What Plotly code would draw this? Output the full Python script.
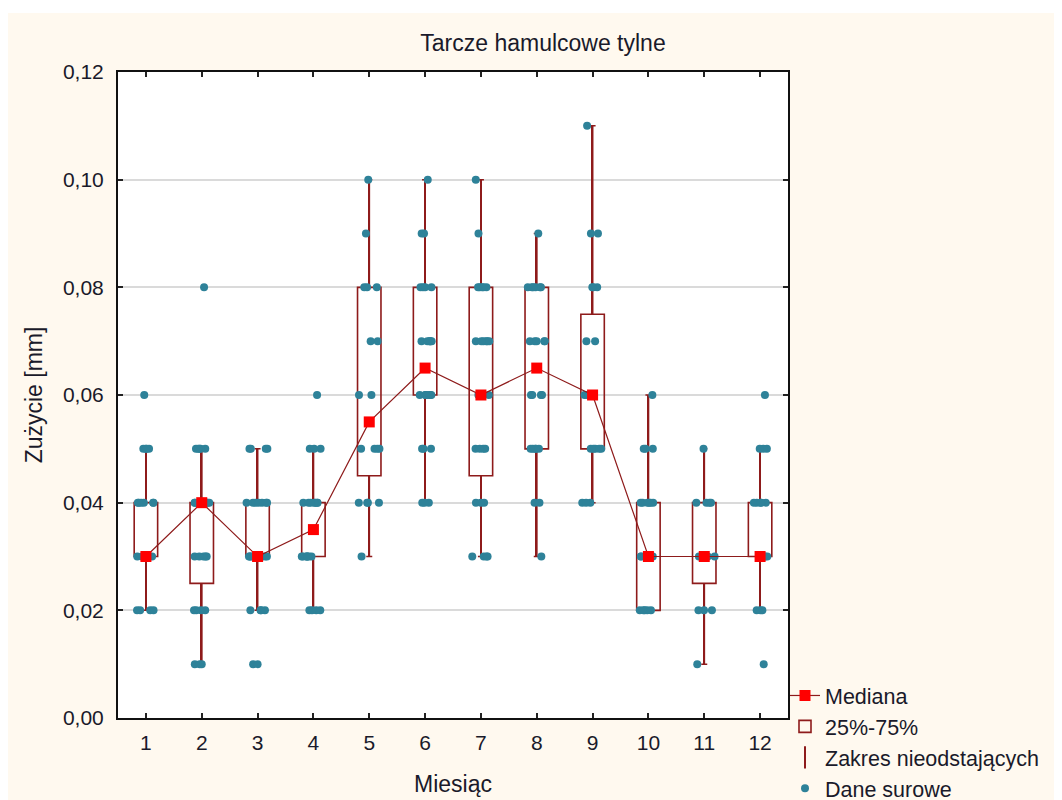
import plotly.graph_objects as go

# ---------------- data ----------------
months = list(range(1, 13))
month_labels = [str(m) for m in months]

q1 = [0.030, 0.025, 0.030, 0.030, 0.045, 0.060, 0.045, 0.050, 0.050, 0.020, 0.025, 0.030]
q3 = [0.040, 0.040, 0.040, 0.040, 0.080, 0.080, 0.080, 0.080, 0.075, 0.040, 0.040, 0.040]
median = [0.030, 0.040, 0.030, 0.035, 0.055, 0.065, 0.060, 0.065, 0.060, 0.030, 0.030, 0.030]
whisker_low = [0.02, 0.01, 0.02, 0.02, 0.03, 0.04, 0.03, 0.03, 0.04, 0.02, 0.01, 0.02]
whisker_high = [0.05, 0.05, 0.05, 0.05, 0.10, 0.10, 0.10, 0.09, 0.11, 0.06, 0.05, 0.05]

# raw measurements: (value, number of observations) per month
raw_m1 = [(0.02, 4), (0.03, 8), (0.04, 6), (0.05, 4), (0.06, 1)]
raw_m2 = [(0.01, 3), (0.02, 4), (0.03, 5), (0.04, 8), (0.05, 5), (0.08, 1)]
raw_m3 = [(0.01, 2), (0.02, 4), (0.03, 9), (0.04, 7), (0.05, 4)]
raw_m4 = [(0.02, 4), (0.03, 7), (0.04, 7), (0.05, 3), (0.06, 1)]
raw_m5 = [(0.03, 1), (0.04, 4), (0.05, 4), (0.06, 2), (0.07, 2), (0.08, 3), (0.09, 1), (0.10, 1)]
raw_m6 = [(0.04, 3), (0.05, 3), (0.06, 7), (0.07, 6), (0.08, 4), (0.09, 2), (0.10, 1)]
raw_m7 = [(0.03, 4), (0.04, 3), (0.05, 4), (0.06, 3), (0.07, 6), (0.08, 5), (0.09, 1), (0.10, 1)]
raw_m8 = [(0.03, 1), (0.04, 2), (0.05, 5), (0.06, 4), (0.07, 5), (0.08, 6), (0.09, 1)]
raw_m9 = [(0.04, 3), (0.05, 5), (0.06, 5), (0.07, 2), (0.08, 3), (0.09, 2), (0.11, 1)]
raw_m10 = [(0.02, 5), (0.03, 6), (0.04, 6), (0.05, 3), (0.06, 1)]
raw_m11 = [(0.01, 1), (0.02, 3), (0.03, 5), (0.04, 4), (0.05, 1)]
raw_m12 = [(0.01, 1), (0.02, 3), (0.03, 6), (0.04, 5), (0.05, 3), (0.06, 1)]
raw_all = [raw_m1, raw_m2, raw_m3, raw_m4, raw_m5, raw_m6,
           raw_m7, raw_m8, raw_m9, raw_m10, raw_m11, raw_m12]

y_ticks = [0.00, 0.02, 0.04, 0.06, 0.08, 0.10, 0.12]

title_text = "Tarcze hamulcowe tylne"
x_title = "Miesiąc"
y_title = "Zużycie [mm]"

# ---------------- styles ----------------
DARKRED = "#8E1B1B"
RED = "#FF0000"
TEAL = "#2E8299"
CREAM = "#FFF9EF"
FONT = "Liberation Sans, Arial, sans-serif"
TXT = "#1A1A2A"

raw_x, raw_y = [], []
for m, pairs in zip(months, raw_all):
    for v, c in pairs:
        raw_x.extend([m] * c)
        raw_y.extend([v] * c)

box_h = [b - a for a, b in zip(q1, q3)]
upper_len = [b - a for a, b in zip(q3, whisker_high)]
lower_len = [b - a for a, b in zip(q1, whisker_low)]  # negative: drawn downward from q1
zeros = [0] * len(months)

fig = go.Figure()

# boxes 25%-75%
fig.add_trace(go.Bar(
    x=months, y=box_h, base=q1, width=0.42,
    marker=dict(color="rgba(0,0,0,0)", line=dict(color=DARKRED, width=1.6)),
    name="25%-75%", legendrank=2, hoverinfo="skip",
))
# whiskers (non-outlier range)
fig.add_trace(go.Bar(
    x=months, y=upper_len, base=q3, width=0.032,
    marker=dict(color=DARKRED, line=dict(width=0)),
    error_y=dict(type="data", array=zeros, arrayminus=zeros, color=DARKRED, thickness=1.5, width=3),
    showlegend=False, hoverinfo="skip",
))
fig.add_trace(go.Bar(
    x=months, y=lower_len, base=q1, width=0.032,
    marker=dict(color=DARKRED, line=dict(width=0)),
    error_y=dict(type="data", array=zeros, arrayminus=zeros, color=DARKRED, thickness=1.5, width=3),
    showlegend=False, hoverinfo="skip",
))

# raw data points (jittered)
fig.add_trace(go.Box(
    x=raw_x, y=raw_y, boxpoints="all", jitter=1.0, pointpos=0, width=0.42,
    fillcolor="rgba(0,0,0,0)", line=dict(color="rgba(0,0,0,0)", width=0),
    whiskerwidth=0,
    marker=dict(color=TEAL, size=8, line=dict(width=0)),
    showlegend=False, hoverinfo="y",
))

# median line + markers
fig.add_trace(go.Scatter(
    x=months, y=median, mode="lines+markers",
    line=dict(color=DARKRED, width=1.2),
    marker=dict(symbol="square", size=11, color=RED, line=dict(width=0)),
    name="Mediana", legendrank=1,
))

# legend-only entries
fig.add_trace(go.Scatter(
    x=[None], y=[None], mode="markers",
    marker=dict(symbol="line-ns-open", size=18, color=DARKRED, line=dict(color=DARKRED, width=2)),
    name="Zakres nieodstających", legendrank=3,
))
fig.add_trace(go.Scatter(
    x=[None], y=[None], mode="markers",
    marker=dict(symbol="circle", size=8, color=TEAL),
    name="Dane surowe", legendrank=4,
))

# figure pixel geometry (page adds an 8px body margin)
W, H = 1062, 800
L, R, T, B = 110, 282, 64, 90
pw, ph = W - L - R, H - T - B


def px_x(p):
    return (p - L) / pw


def px_y(p):
    return (H - B - p) / ph


fig.update_layout(
    width=W, height=H,
    margin=dict(l=L, r=R, t=T, b=B, autoexpand=False),
    paper_bgcolor=CREAM, plot_bgcolor="white",
    font=dict(family=FONT, size=21, color=TXT),
    separators=", ",
    barmode="overlay", boxmode="overlay",
    title=dict(text=title_text, x=535 / W, xref="container", xanchor="center",
               y=1 - 35 / H, yref="container", yanchor="middle",
               font=dict(size=23, color=TXT)),
    showlegend=True,
    legend=dict(x=px_x(777), y=px_y(667), xref="paper", yref="paper",
                xanchor="left", yanchor="top",
                bgcolor="rgba(0,0,0,0)", borderwidth=0,
                font=dict(size=21.5, color=TXT), tracegroupgap=0),
    xaxis=dict(
        range=[0.5, 12.5], tickmode="array", tickvals=months, ticktext=month_labels,
        ticks="inside", ticklen=5, tickwidth=1.5, tickcolor="#222",
        showline=True, linecolor="#111", linewidth=2, mirror="ticks",
        showgrid=False, zeroline=False, ticklabelstandoff=5,
        title=dict(text=x_title, standoff=23, font=dict(size=23)),
        tickfont=dict(size=21), fixedrange=True,
    ),
    yaxis=dict(
        range=[0, 0.12], tickmode="array", tickvals=y_ticks, tickformat=".2f",
        ticks="inside", ticklen=5, tickwidth=1.5, tickcolor="#222",
        showline=True, linecolor="#111", linewidth=2, mirror="ticks",
        showgrid=True, gridcolor="#DADADA", gridwidth=1.5, zeroline=False,
        ticklabelstandoff=8,
        title=dict(text=y_title, standoff=14, font=dict(size=23)),
        tickfont=dict(size=21), fixedrange=True,
    ),
    shapes=[
        # thin white strip at the top of the cream panel
        dict(type="rect", xref="paper", yref="paper", layer="below",
             x0=px_x(0), x1=px_x(W), y0=px_y(5), y1=px_y(0),
             fillcolor="white", line=dict(width=0)),
    ],
)

fig.write_html("out.html")
